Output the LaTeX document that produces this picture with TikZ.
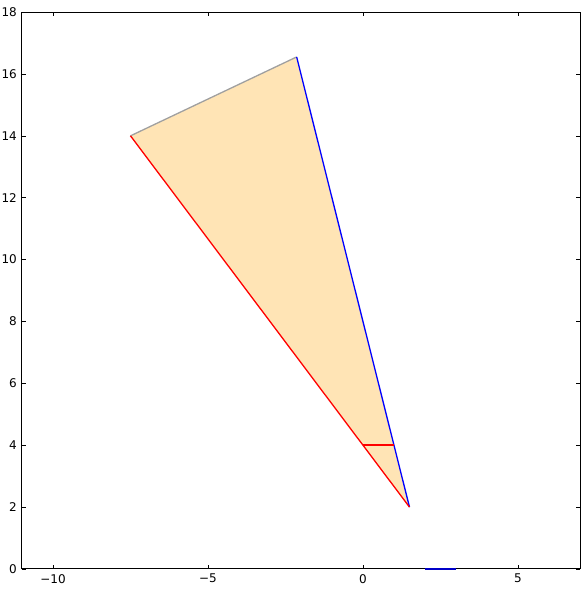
\documentclass[tikz,border=0pt]{standalone}
\usepackage{fontspec}
\setmainfont{DejaVu Sans}
\usetikzlibrary{calc}
\definecolor{wedgefill}{RGB}{255,228,181}
\definecolor{edgegray}{RGB}{160,160,160}
\definecolor{edgered}{RGB}{255,0,0}
\definecolor{edgeblue}{RGB}{0,0,255}
\definecolor{baseblue}{RGB}{0,0,200}

\begin{document}
\begin{tikzpicture}[
      x=31pt, y=30.94pt,
      frame/.style={draw=black, line width=1pt},
      tickmark/.style={draw=black, line width=0.5pt},
      ticklabel/.style={font=\fontsize{12}{14}\selectfont, inner sep=0pt},
      edge/.style={line width=1.3pt, line join=round},
      marker/.style={line width=2pt}
    ]
      \useasboundingbox (-363/31, -22/30.94) rectangle (224/31, 569/30.94);
      %% triangle corners
      \coordinate (left)  at (-7.5, 14);
      \coordinate (apex)  at (-2.14, 16.55);
      \coordinate (tip)   at (1.5, 2);
      \coordinate (cutL)  at (0, 4);
      \coordinate (cutR)  at (1, 4);
      \coordinate (baseL) at (2, 0);
      \coordinate (baseR) at (3, 0);
      %% filled wedge
      \fill[wedgefill] (left) -- (apex) -- (tip) -- cycle;
      \draw[edge, draw=edgegray] (left) -- (apex);
      \draw[edge, draw=edgeblue] (apex) -- (tip);
      \draw[edge, draw=edgered]  (left) -- (tip);
      \draw[marker, draw=edgered] (cutL) -- (cutR);
      %% axes box and ticks
      \draw[frame] (-11, 0) rectangle (7, 18);
      \foreach \xv/\xl [count=\k] in {-10/−10, -5/−5, 0/0, 5/5} {
        \draw[tickmark] (\xv, 0) -- ++(0, 4pt);
        \draw[tickmark] (\xv, 18) -- ++(0, -4pt);
        \node[ticklabel, anchor=north, yshift=-5pt] (xlab\k) at (\xv, 0) {\xl};
      }
      \foreach \yv [count=\k] in {0, 2, ..., 18} {
        \draw[tickmark] (-11, \yv) -- ++(4pt, 0);
        \draw[tickmark] (7, \yv) -- ++(-4pt, 0);
        \node[ticklabel, anchor=east, xshift=-5pt] (ylab\k) at (-11, \yv) {\yv};
      }
      \draw[marker, draw=baseblue] (baseL) -- (baseR);
    \end{tikzpicture}
\end{document}
